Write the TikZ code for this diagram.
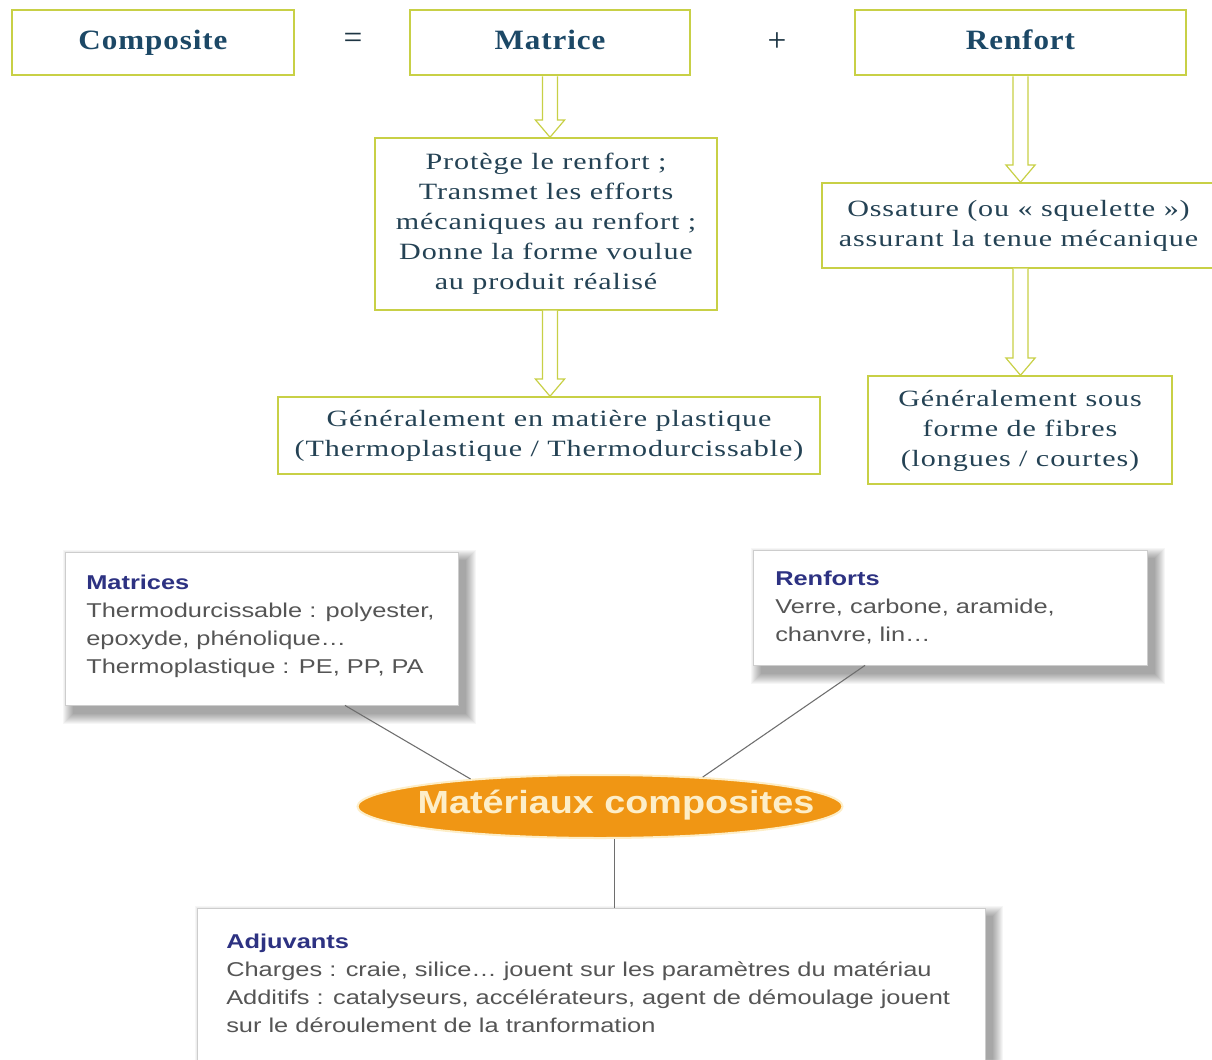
\documentclass[tikz,border=0pt]{standalone}
\usepackage{fontspec}
\usepackage{graphicx}
\setmainfont{Liberation Serif}
\newfontfamily\serifT[LetterSpace=3]{Liberation Serif}
\newfontfamily\sansT{Liberation Sans}
\usetikzlibrary{calc,shapes.geometric}
\definecolor{ygreen}{RGB}{200,208,70}
\definecolor{tcol}{RGB}{36,66,84}
\definecolor{titlecol}{RGB}{28,72,102}
\definecolor{navyc}{RGB}{45,50,130}
\definecolor{bodyc}{RGB}{85,85,85}
\definecolor{orangec}{RGB}{240,150,20}
\definecolor{creamc}{RGB}{253,238,200}
\definecolor{connc}{RGB}{110,110,110}
\definecolor{cardline}{RGB}{205,205,205}
\pgfdeclarelayer{pagebg}
\pgfdeclarelayer{shadowlayer}
\pgfsetlayers{pagebg,shadowlayer,main}
\newcommand\ttl[1]{\raisebox{2.5pt}{\scalebox{1.11}[1]{\serifT\bfseries\fontsize{21pt}{24pt}\selectfont\color{titlecol}#1\vphantom{Cp}}}}
\newcommand\toptext[1]{\scalebox{1.29}[1]{\serifT\fontsize{17.5pt}{22.5pt}\selectfont\color{tcol}\begin{tabular}{@{}c@{}}#1\end{tabular}}}
\newcommand\cardtext[2]{\scalebox{1.27}[1]{\sansT\fontsize{15pt}{21pt}\selectfont\color{bodyc}\begin{tabular}{@{}l@{}}{\bfseries\color{navyc}\fontsize{15pt}{21pt}\selectfont #1}\\ #2\end{tabular}}}
\newcommand\blockarrow[2]{\draw[barrow] let \p1=#1, \p2=#2 in (\x1-5.6pt,\y1) -- (\x1-5.6pt,\y2+13pt) -- (\x1-11pt,\y2+13pt) -- (\x1,\y2) -- (\x1+11pt,\y2+13pt) -- (\x1+5.6pt,\y2+13pt) -- (\x1+5.6pt,\y1);}
\newcommand\cardshadow[1]{\begin{pgfonlayer}{shadowlayer}\foreach \e in {0,1,...,10}{\fill[black,opacity=0.036] ([shift={(8-\e,9+\e)}]#1.south west) rectangle ([shift={(8+\e,8-\e)}]#1.north east);}\end{pgfonlayer}}
\begin{document}
\begin{tikzpicture}[x=0.75pt,y=-0.75pt,
  titlebox/.style={draw=ygreen, line width=2.2pt, fill=white, minimum height=48.75pt, inner sep=0pt},
  infobox/.style={draw=ygreen, line width=1.1pt, fill=white, inner sep=0pt},
  barrow/.style={draw=ygreen, line width=0.9pt, fill=white, line join=miter},
  cardbox/.style={draw=cardline, line width=0.6pt, fill=white, inner sep=0pt},
  cardlabel/.style={anchor=north west, inner sep=0pt},
  conn/.style={draw=connc, line width=0.8pt},
  signs/.style={inner sep=0pt, font=\fontsize{25pt}{28pt}\selectfont, text=tcol!80!black}]
\useasboundingbox (0,0) rectangle (1212,1059);
\begin{pgfonlayer}{pagebg}\fill[white] (0,0) rectangle (1212,1059);\end{pgfonlayer}

% top row
\node[titlebox, minimum width=211.5pt] (composite) at (153,42.5) {\ttl{Composite}};
\node[signs] (eq) at (353,41) {=};
\node[signs] (plus) at (777,42) {+};
\node[titlebox, minimum width=210pt] (matrice) at (550,42.5) {\ttl{Matrice}};
\node[titlebox, minimum width=248.25pt] (renfort) at (1020.5,42.5) {\ttl{Renfort}};

% matrix column
\node[infobox, minimum width=256.5pt, minimum height=129pt] (protege) at (546,224)
  {\toptext{Protège le renfort ;\\Transmet les efforts\\mécaniques au renfort ;\\Donne la forme voulue\\au produit réalisé}};
\node[infobox, minimum width=406.5pt, minimum height=57.75pt] (genmat) at (549,435.5)
  {\toptext{Généralement en matière plastique\\(Thermoplastique / Thermodurcissable)}};

% reinforcement column
\node[infobox, minimum width=294.75pt, minimum height=63.75pt] (ossature) at (1018.5,225.5)
  {\toptext{Ossature (ou « squelette »)\\assurant la tenue mécanique}};
\node[infobox, minimum width=228pt, minimum height=81pt] (gensous) at (1020,430)
  {\toptext{Généralement sous\\forme de fibres\\(longues / courtes)}};

\blockarrow{(matrice.south)}{(protege.north)}
\blockarrow{(protege.south -| matrice.south)}{(genmat.north)}
\blockarrow{(renfort.south)}{(ossature.north)}
\blockarrow{(ossature.south -| renfort.south)}{(gensous.north)}

% bottom mind map
\node[cardbox, minimum width=294.75pt, minimum height=114.75pt] (matrices) at (261.5,628.5) {};
\node[cardlabel] (matricestxt) at (86,570)
  {\cardtext{Matrices}{Thermodurcissable : polyester,\\epoxyde, phénolique…\\Thermoplastique : PE, PP, PA}};
\node[cardbox, minimum width=295.5pt, minimum height=86.25pt] (renforts) at (950,607.5) {};
\node[cardlabel] (renfortstxt) at (775,566)
  {\cardtext{Renforts}{Verre, carbone, aramide,\\chanvre, lin…}};
\node[cardbox, minimum width=591pt, minimum height=129pt] (adjuvants) at (591,994) {};
\node[cardlabel] (adjuvantstxt) at (226,929)
  {\cardtext{Adjuvants}{Charges : craie, silice… jouent sur les paramètres du matériau\\Additifs : catalyseurs, accélérateurs, agent de démoulage jouent\\sur le déroulement de la tranformation}};
\cardshadow{matrices}
\cardshadow{renforts}
\cardshadow{adjuvants}

\node[ellipse, fill=orangec, draw=creamc, line width=1.5pt, minimum width=363.75pt, minimum height=47.25pt, inner sep=0pt] (ell) at (600,806.5) {};
\node[inner sep=0pt] (elltxt) at (616,805)
  {\scalebox{1.18}[1]{\sansT\bfseries\fontsize{24pt}{24pt}\selectfont\color{creamc}Matériaux composites}};

\coordinate (mfoot) at ([xshift=62.6pt]matrices.south);
\coordinate (rfoot) at ([xshift=-63.75pt]renforts.south);
\coordinate (efoot) at (ell.-66);
\draw[conn] (mfoot) -- (ell.168.5);
\draw[conn] (rfoot) -- (ell.16.8);
\draw[conn] (efoot) -- (efoot |- adjuvants.north);
\end{tikzpicture}
\end{document}
